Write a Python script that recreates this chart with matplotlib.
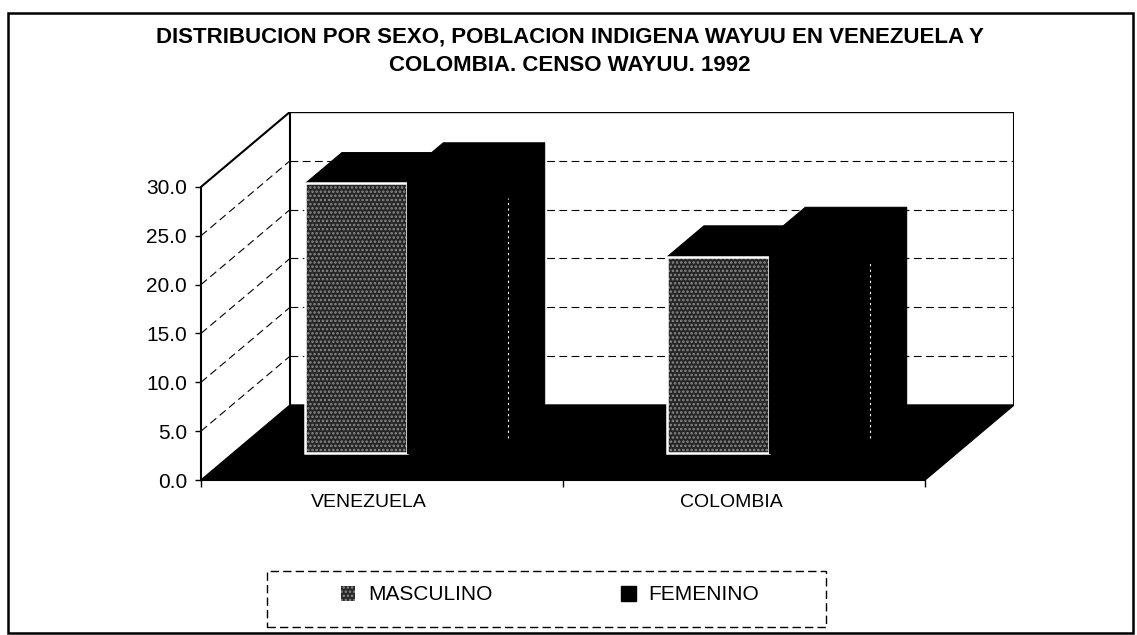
import matplotlib.pyplot as plt
from matplotlib.patches import Polygon, Rectangle, Patch

plt.rcParams['font.family'] = ['Liberation Sans', 'DejaVu Sans']
plt.rcParams['hatch.linewidth'] = 1.2

# ---- datos ----
paises = ['VENEZUELA', 'COLOMBIA']
sexos = ['MASCULINO', 'FEMENINO']
masculino = [27.6, 20.1]
femenino = [28.6, 22.0]
y_ticks = [0, 5, 10, 15, 20, 25, 30]
titulo = ('DISTRIBUCION POR SEXO, POBLACION INDIGENA WAYUU EN VENEZUELA Y\n'
          'COLOMBIA. CENSO WAYUU. 1992')

# ---- geometria del "3D" estilo Excel ----
W, H = 1137, 635
PX_CAT = 362.0      # px por categoria
PX_VAL = 9.77       # px por unidad
DX = 89 / PX_CAT    # desplazamiento de profundidad (unidades de categoria)
DY = 75 / PX_VAL    # desplazamiento de profundidad (unidades de valor)
YMAX = 30
N = len(paises)

BAR_X0, BAR_W = 0.20, 0.28
D_FRONT, D_BACK = 0.36, 0.77

fig = plt.figure(figsize=(W / 100, H / 100), dpi=100)
fig.patch.set_facecolor('white')
ax = fig.add_axes([201 / W, 1 - 480 / H, (N + DX) * PX_CAT / W, (YMAX + DY) * PX_VAL / H])
ax.set_xlim(0, N + DX)
ax.set_ylim(0, YMAX + DY)
ax.patch.set_visible(False)

GRID = dict(color='black', lw=0.8, ls=(0, (7, 4)), zorder=2)

# pared izquierda y pared del fondo
ax.add_patch(Polygon([(0, 0), (DX, DY), (DX, YMAX + DY), (0, YMAX)],
                     closed=True, fc='white', ec='none', zorder=1))
ax.add_patch(Polygon([(DX, DY), (N + DX, DY), (N + DX, YMAX + DY), (DX, YMAX + DY)],
                     closed=True, fc='white', ec='none', zorder=1))
for v in y_ticks[1:-1]:
    ax.plot([0, DX], [v, v + DY], **GRID)
    ax.plot([DX, N + DX], [v + DY, v + DY], **GRID)
ax.plot([0, DX], [YMAX, YMAX + DY], color='black', lw=1.5, zorder=2)
ax.plot([DX, N + DX], [YMAX + DY, YMAX + DY], color='black', lw=1.0, zorder=2)
ax.plot([DX, DX], [DY, YMAX + DY], color='black', lw=1.5, zorder=2)
ax.plot([N + DX, N + DX], [DY, YMAX + DY], color='black', lw=1.5, zorder=2)

# piso negro
ax.add_patch(Polygon([(0, 0), (N, 0), (N + DX, DY), (DX, DY)],
                     closed=True, fc='black', ec='black', lw=1, zorder=2))


def caja(x0, x1, v):
    f0x, f0y = D_FRONT * DX, D_FRONT * DY
    b0x, b0y = D_BACK * DX, D_BACK * DY
    frente = [(x0 + f0x, f0y), (x1 + f0x, f0y), (x1 + f0x, f0y + v), (x0 + f0x, f0y + v)]
    tapa = [(x0 + f0x, f0y + v), (x1 + f0x, f0y + v), (x1 + b0x, b0y + v), (x0 + b0x, b0y + v)]
    lado = [(x1 + f0x, f0y), (x1 + b0x, b0y), (x1 + b0x, b0y + v), (x1 + f0x, f0y + v)]
    return frente, tapa, lado


for i in range(N):
    # masculino
    x0 = i + BAR_X0
    frente, tapa, lado = caja(x0, x0 + BAR_W, masculino[i])
    ax.add_patch(Polygon(lado, closed=True, fc='black', ec='black', lw=0.8, zorder=3))
    ax.add_patch(Polygon(tapa, closed=True, fc='black', ec='black', lw=0.8, zorder=3))
    ax.add_patch(Polygon(frente, closed=True, fc='#262626', ec='#8a8a8a', lw=0,
                         hatch='....', zorder=3))
    ax.add_patch(Polygon(frente, closed=True, fill=False, ec='white', lw=1.8, zorder=3))
    # femenino
    x0 = i + BAR_X0 + BAR_W
    frente, tapa, lado = caja(x0, x0 + BAR_W, femenino[i])
    for pol in (lado, tapa, frente):
        ax.add_patch(Polygon(pol, closed=True, fc='black', ec='black', lw=0.8, zorder=4))
    ax.plot([frente[1][0], frente[2][0]], [frente[1][1] + 1.5, frente[2][1] - 2.5],
            color='white', lw=0.8, ls=(0, (2, 3)), zorder=5)

# ejes
for s in ('top', 'right'):
    ax.spines[s].set_visible(False)
ax.spines['left'].set_bounds(0, YMAX)
ax.spines['left'].set_linewidth(1.5)
ax.spines['bottom'].set_bounds(0, N)
ax.spines['bottom'].set_linewidth(1.5)
ax.spines['left'].set_zorder(6)
ax.set_yticks(y_ticks)
ax.set_yticklabels([f'{v:.1f}' for v in y_ticks])
ax.set_xticks(range(N + 1))
ax.set_xticklabels([])
ax.tick_params(axis='y', length=4, width=1, pad=6, labelsize=15)
ax.tick_params(axis='x', length=5, width=1)
for i, p in enumerate(paises):
    ax.text(i + 0.5 - 0.035, -2.3, p, ha='center', va='center', fontsize=14)

# titulo
fig.text(570 / W, 1 - 51 / H, titulo, ha='center', va='center', fontsize=16,
         fontweight='bold', linespacing=1.45)

# leyenda
handles = [Patch(fc='#262626', ec='#8a8a8a', hatch='....', lw=0),
           Patch(fc='black', ec='black')]
leg = fig.legend(handles, sexos, loc='center', bbox_to_anchor=(550 / W, 1 - 595 / H),
                 ncol=2, frameon=False, fontsize=15, handlelength=0.7, handleheight=0.7,
                 handletextpad=0.6, columnspacing=6.2)
fig.add_artist(Rectangle((267 / W, 1 - 627 / H), (826 - 267) / W, (627 - 571) / H,
                         transform=fig.transFigure, fill=False, ec='black', lw=1,
                         ls=(0, (6, 3))))

# marco exterior
fig.add_artist(Rectangle((8 / W, 1 - 633 / H), (1133 - 8) / W, (633 - 13) / H,
                         transform=fig.transFigure, fill=False, ec='black', lw=1.8))

fig.savefig('out.png', dpi=100)
